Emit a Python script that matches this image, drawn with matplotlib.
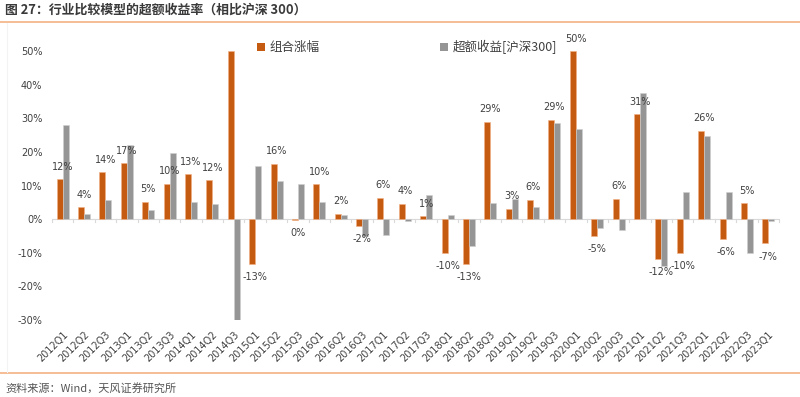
import matplotlib
matplotlib.use("Agg")
import matplotlib.pyplot as plt
import numpy as np
from matplotlib.patches import Patch

plt.rcParams['font.family'] = ['Noto Sans CJK SC', 'DejaVu Sans']

categories = ["2012Q1", "2012Q2", "2012Q3", "2013Q1", "2013Q2", "2013Q3", "2014Q1", "2014Q2",
              "2014Q3", "2015Q1", "2015Q2", "2015Q3", "2016Q1", "2016Q2", "2016Q3", "2017Q1",
              "2017Q2", "2017Q3", "2018Q1", "2018Q2", "2018Q3", "2019Q1", "2019Q2", "2019Q3",
              "2020Q1", "2020Q2", "2020Q3", "2021Q1", "2021Q2", "2021Q3", "2022Q1", "2022Q2",
              "2022Q3", "2023Q1"]
portfolio = [11.9, 3.6, 14.0, 16.6, 5.2, 10.5, 13.3, 11.6,
             50.0, -13.3, 16.4, -0.3, 10.4, 1.6, -2.0, 6.4,
             4.5, 0.9, -10.0, -13.3, 28.9, 3.1, 5.7, 29.5,
             50.0, -5.0, 6.1, 31.2, -11.9, -10.1, 26.3, -5.9,
             4.7, -7.2]
excess = [28.1, 1.4, 5.6, 22.1, 2.6, 19.6, 5.0, 4.6,
          -30.3, 15.8, 11.3, 10.3, 5.1, 1.3, -5.1, -4.7,
          -0.5, 7.2, 1.3, -7.9, 4.7, 6.0, 3.5, 28.6,
          26.9, -2.5, -3.1, 37.4, -14.0, 8.1, 24.7, 8.1,
          -10.0, -0.6]
point_labels = ["12%", "4%", "14%", "17%", "5%", "10%", "13%", "12%",
                "", "-13%", "16%", "0%", "10%", "2%", "-2%", "6%",
                "4%", "1%", "-10%", "-13%", "29%", "3%", "6%", "29%",
                "50%", "-5%", "6%", "31%", "-12%", "-10%", "26%", "-6%",
                "5%", "-7%"]
series_names = ["组合涨幅", "超额收益[沪深300]"]
yticks = [-30, -20, -10, 0, 10, 20, 30, 40, 50]

ORANGE = "#C55A11"
GREY = "#959595"
TXT = "#404040"

fig = plt.figure(figsize=(8, 3.97), dpi=100)
ax = fig.add_axes([52/800, 1-320/397, 727/800, 269/397])

x = np.arange(len(categories))
w = 0.28
ax.bar(x - w/2, portfolio, width=w, color=ORANGE, edgecolor="#F4B183", linewidth=0.4, zorder=3)
ax.bar(x + w/2, excess, width=w, color=GREY, edgecolor="#D0D0D0", linewidth=0.4, zorder=3)

ax.set_xlim(-0.5, len(categories) - 0.5)
ax.set_ylim(-30, 50)
ax.axhline(0, color="#D9D9D9", linewidth=0.8, zorder=2)
for b in np.arange(-0.5, len(categories), 1.0):
    ax.plot([b, b], [0, -0.9], color="#D9D9D9", linewidth=0.8, zorder=2, clip_on=False)

for i, (v, lab) in enumerate(zip(portfolio, point_labels)):
    if not lab:
        continue
    off = 9 if v >= 0 else -9.5
    ax.annotate(lab, (x[i], v), xytext=(0, off), textcoords="offset points",
                ha="center", va="center", fontsize=7, color=TXT, family=["DejaVu Sans"])

for s in ax.spines.values():
    s.set_visible(False)
ax.set_yticks(yticks)
ax.set_yticklabels([f"{t}%" for t in yticks], fontsize=7, color=TXT, family=["DejaVu Sans"])
ax.tick_params(axis="y", length=0, pad=7)
ax.set_xticks(x)
ax.set_xticklabels(categories, rotation=45, ha="right", rotation_mode="anchor",
                   fontsize=7, color=TXT, family=["DejaVu Sans"])
ax.tick_params(axis="x", length=0, pad=7)

handles = [Patch(facecolor=ORANGE, edgecolor="none"), Patch(facecolor=GREY, edgecolor="none")]
fig.legend(handles, series_names, loc="center left", bbox_to_anchor=(257/800, 1-47/397),
           ncol=2, frameon=False, fontsize=9, handlelength=0.6, handleheight=0.6,
           handletextpad=0.4, columnspacing=9.65, labelcolor=TXT, borderpad=0,
           borderaxespad=0)

fig.text(5/800, 1-10/397, "图 27：行业比较模型的超额收益率（相比沪深 300）", fontsize=9.3,
         fontweight="bold", color="#3A3A3A", va="center", ha="left")
fig.add_artist(plt.Line2D([0, 1], [1-22/397, 1-22/397], color="#F4B183", linewidth=1.2))
fig.add_artist(plt.Line2D([0, 1], [1-373/397, 1-373/397], color="#F4B183", linewidth=1.2))
fig.add_artist(plt.Line2D([7/800, 7/800], [1-23/397, 1-372/397], color="#F3F3F3", linewidth=0.8))
fig.text(5/800, 1-388/397, "资料来源：Wind，天风证券研究所", fontsize=8, color="#555555",
         va="center", ha="left")

fig.savefig("out.png", dpi=100)
